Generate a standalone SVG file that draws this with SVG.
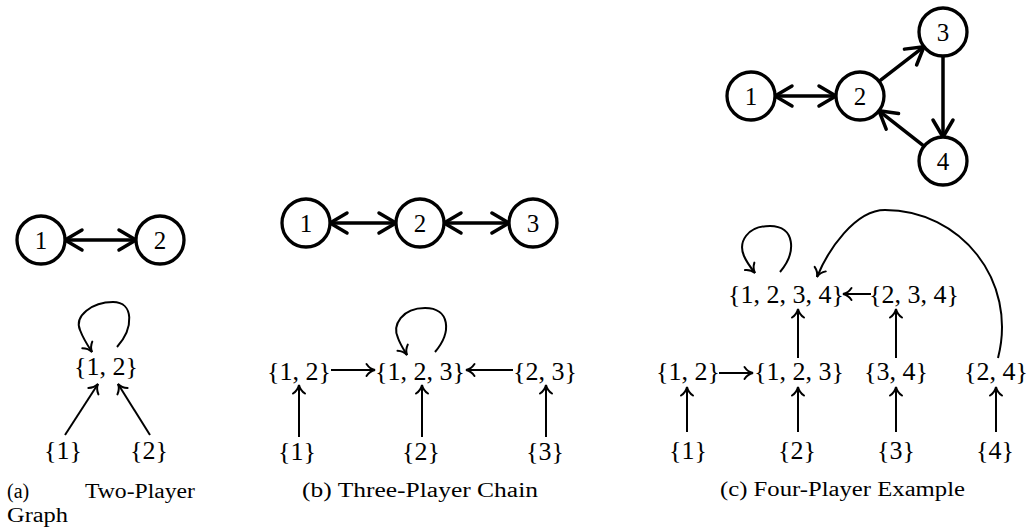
<svg xmlns="http://www.w3.org/2000/svg" width="1031" height="529" viewBox="0 0 1031 529">
  <style>
    text { font-family: "Liberation Serif", "Times New Roman", serif; fill: #000; }
    .num { font-size: 25px; text-anchor: middle; }
    .set { font-size: 26px; text-anchor: middle; }
    .cap { font-size: 20px; }
    .node circle { fill: #fff; stroke: #000; stroke-width: 3.3; }
    .thick { fill: none; stroke: #000; stroke-width: 3.5; stroke-linecap: round; }
    .thin { fill: none; stroke: #000; stroke-width: 2; }
    .dbl { marker-start: url(#chevron); marker-end: url(#chevron); }
    .one { marker-end: url(#chevron); }
    .to { marker-end: url(#tip); }
  </style>
  <defs>
    <marker id="chevron" markerUnits="userSpaceOnUse" viewBox="-20 -13 24 26" refX="0" refY="0" markerWidth="24" markerHeight="26" orient="auto-start-reverse" overflow="visible">
      <path d="M -17,-10 L 0,0 L -17,10" fill="none" stroke="#000" stroke-width="3.5" stroke-linecap="round" stroke-linejoin="round"/>
    </marker>
    <marker id="tip" markerUnits="userSpaceOnUse" viewBox="-10 -7 12 14" refX="0" refY="0" markerWidth="12" markerHeight="14" orient="auto" overflow="visible">
      <path d="M -8.5,-6 C -6,-2.2 -2.8,-0.6 0,0 C -2.8,0.6 -6,2.2 -8.5,6" fill="none" stroke="#000" stroke-width="2" stroke-linecap="round"/>
    </marker>
  </defs>

  <!-- (a) two players -->
  <g id="a-connectors">
    <line class="thick dbl" x1="65" y1="240" x2="136" y2="240"/>
    <path class="thin to" d="M 117,347 C 134,328 134,302 113,302 C 92,302 74,316 80,330 C 83,338 88,346 92,352"/>
    <line class="thin to" x1="65" y1="435" x2="98" y2="384"/>
    <line class="thin to" x1="150" y1="435" x2="118" y2="384"/>
  </g>
  <g id="a-p1" class="node"><circle cx="41" cy="240" r="24"/><text class="num" x="41" y="248.5">1</text></g>
  <g id="a-p2" class="node"><circle cx="160" cy="240" r="24"/><text class="num" x="160" y="248.5">2</text></g>
  <g id="a-s12"><text class="set" x="106" y="375">{1, 2}</text></g>
  <g id="a-s1"><text class="set" x="63" y="459">{1}</text></g>
  <g id="a-s2"><text class="set" x="149" y="459">{2}</text></g>
  <text class="cap" x="7" y="498">(a)</text>
  <text class="cap" x="85" y="498" textLength="110" lengthAdjust="spacingAndGlyphs">Two-Player</text>
  <text class="cap" x="7" y="522" textLength="61" lengthAdjust="spacingAndGlyphs">Graph</text>

  <!-- (b) three-player chain -->
  <g id="b-connectors">
    <line class="thick dbl" x1="330" y1="223" x2="396" y2="223"/>
    <line class="thick dbl" x1="444" y1="223" x2="509" y2="223"/>
    <path class="thin to" d="M 435,352 C 452,332 450,308 425,308 C 402,308 392,325 398,338 C 400,344 404,350 407,355"/>
    <line class="thin to" x1="331" y1="370" x2="375" y2="370"/>
    <line class="thin to" x1="513" y1="370" x2="466" y2="370"/>
    <line class="thin to" x1="299" y1="437" x2="299" y2="385"/>
    <line class="thin to" x1="422" y1="437" x2="422" y2="385"/>
    <line class="thin to" x1="546" y1="437" x2="546" y2="385"/>
  </g>
  <g id="b-p1" class="node"><circle cx="306" cy="223" r="24"/><text class="num" x="306" y="231.5">1</text></g>
  <g id="b-p2" class="node"><circle cx="420" cy="223" r="24"/><text class="num" x="420" y="231.5">2</text></g>
  <g id="b-p3" class="node"><circle cx="533" cy="223" r="24"/><text class="num" x="533" y="231.5">3</text></g>
  <g id="b-s12"><text class="set" x="299" y="380">{1, 2}</text></g>
  <g id="b-s123"><text class="set" x="420" y="380">{1, 2, 3}</text></g>
  <g id="b-s23"><text class="set" x="545" y="380">{2, 3}</text></g>
  <g id="b-s1"><text class="set" x="297" y="460">{1}</text></g>
  <g id="b-s2"><text class="set" x="421" y="460">{2}</text></g>
  <g id="b-s3"><text class="set" x="545" y="460">{3}</text></g>
  <text class="cap" x="302" y="497" textLength="236" lengthAdjust="spacingAndGlyphs">(b) Three-Player Chain</text>

  <!-- (c) four-player example -->
  <g id="c-connectors">
    <line class="thick dbl" x1="775" y1="96" x2="836" y2="96"/>
    <line class="thick one" x1="879" y1="81.3" x2="924" y2="46.7"/>
    <line class="thick one" x1="943" y1="56" x2="943" y2="137"/>
    <line class="thick one" x1="924" y1="146.2" x2="879" y2="110.8"/>
    <path class="thin to" d="M 780,272 C 797,252 795,226 770,226 C 747,226 738,242 744,256 C 747,263 751,268 755,273"/>
    <path class="thin to" d="M 998,358 C 1018,280 960,210 885,210 C 855,210 828,250 817,277"/>
    <line class="thin to" x1="871" y1="294" x2="843" y2="294"/>
    <line class="thin to" x1="719" y1="373" x2="753" y2="373"/>
    <line class="thin to" x1="798" y1="358" x2="798" y2="309"/>
    <line class="thin to" x1="896" y1="358" x2="896" y2="309"/>
    <line class="thin to" x1="687" y1="432" x2="687" y2="387"/>
    <line class="thin to" x1="798" y1="432" x2="798" y2="387"/>
    <line class="thin to" x1="896" y1="432" x2="896" y2="387"/>
    <line class="thin to" x1="996" y1="432" x2="996" y2="387"/>
  </g>
  <g id="c-p1" class="node"><circle cx="751" cy="96" r="24"/><text class="num" x="751" y="104.5">1</text></g>
  <g id="c-p2" class="node"><circle cx="860" cy="96" r="24"/><text class="num" x="860" y="104.5">2</text></g>
  <g id="c-p3" class="node"><circle cx="943" cy="32" r="24"/><text class="num" x="943" y="40.5">3</text></g>
  <g id="c-p4" class="node"><circle cx="943" cy="161" r="24"/><text class="num" x="943" y="169.5">4</text></g>
  <g id="c-s1234"><text class="set" x="786" y="303">{1, 2, 3, 4}</text></g>
  <g id="c-s234"><text class="set" x="914" y="303">{2, 3, 4}</text></g>
  <g id="c-s12"><text class="set" x="688" y="380">{1, 2}</text></g>
  <g id="c-s123"><text class="set" x="799" y="380">{1, 2, 3}</text></g>
  <g id="c-s34"><text class="set" x="896" y="380">{3, 4}</text></g>
  <g id="c-s24"><text class="set" x="996" y="380">{2, 4}</text></g>
  <g id="c-s1"><text class="set" x="688" y="459">{1}</text></g>
  <g id="c-s2"><text class="set" x="797" y="459">{2}</text></g>
  <g id="c-s3"><text class="set" x="896" y="459">{3}</text></g>
  <g id="c-s4"><text class="set" x="995" y="459">{4}</text></g>
  <text class="cap" x="720" y="496" textLength="245" lengthAdjust="spacingAndGlyphs">(c) Four-Player Example</text>
</svg>
